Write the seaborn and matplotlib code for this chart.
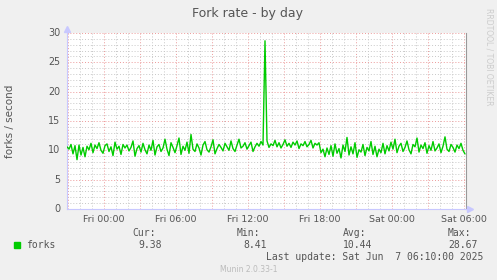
import matplotlib
matplotlib.use("Agg")
import matplotlib.pyplot as plt
import matplotlib.dates as mdates
import seaborn as sns
import pandas as pd
import numpy as np

# ---- data (10-minute samples) ----
start_time = "2025-06-05 20:55"
end_time = "2025-06-07 06:10"
forks_seg1 = [10.6, 10.2, 11.0, 9.4, 10.8, 8.41, 10.9, 9.2, 10.5, 8.9,
              10.7, 10.1, 11.2, 9.6, 10.9, 10.3, 11.3, 10.0, 9.5, 10.8,
              11.1, 9.8, 10.6, 9.1, 11.4, 10.2, 10.7, 9.3, 11.0, 10.4,
              10.9, 9.9, 10.5, 11.6, 9.0, 10.3, 10.8, 9.7, 11.2, 10.1,
              9.4, 10.9, 10.0, 11.7, 9.2, 10.6, 11.0, 9.8, 10.4, 11.9,
              10.2, 9.1, 11.3, 10.5, 9.6, 10.8, 12.1, 9.3, 10.7, 10.0,
              11.4, 9.5, 12.7, 10.2, 9.8, 11.1, 10.4, 9.2, 10.9, 11.5,
              10.1, 9.7, 10.6, 11.8, 9.4, 10.3, 11.0, 10.5, 9.9, 11.2,
              10.6, 10.0, 11.6, 10.3, 9.8, 10.9, 11.9, 10.4, 10.7, 11.3,
              10.2]
forks_seg2 = [10.8, 11.4, 9.8, 10.6, 11.2, 10.7, 11.5, 10.9, 28.67, 11.6,
              10.5, 11.1, 10.8, 11.7, 10.6, 11.3, 10.4, 11.0, 11.8, 10.7,
              11.2, 10.5, 11.4, 10.9, 11.6, 10.3, 11.1, 10.8, 11.5, 10.6,
              11.0, 11.7, 10.4, 11.2, 10.9, 11.3]
forks_seg3 = [9.6, 10.2, 8.9, 10.4, 9.3, 10.8, 9.0, 11.1, 9.5, 10.3,
              8.7, 10.9, 9.8, 12.2, 9.2, 10.6, 9.4, 11.3, 8.8, 10.1,
              9.7, 11.0, 9.1, 10.5, 9.9, 11.5, 9.3, 10.7, 8.9, 10.2,
              9.6, 11.2, 9.4]
forks_seg4 = [10.8, 9.9, 11.4, 10.2, 11.9, 9.6, 10.7, 11.2, 9.8, 10.5,
              11.6, 10.1, 9.4, 11.0, 10.6, 12.1, 9.7, 10.9, 10.3, 11.3,
              9.5, 10.8, 10.0, 11.5, 9.9, 10.4, 11.1, 9.6, 10.7, 12.3,
              10.2, 9.8, 11.0, 10.5, 9.7, 10.9, 10.3, 11.2, 10.0, 9.38]
forks = forks_seg1 + forks_seg2 + forks_seg3 + forks_seg4

xtick_times = ["2025-06-06 00:00", "2025-06-06 06:00", "2025-06-06 12:00",
               "2025-06-06 18:00", "2025-06-07 00:00", "2025-06-07 06:00"]
xtick_labels = ["Fri 00:00", "Fri 06:00", "Fri 12:00", "Fri 18:00",
                "Sat 00:00", "Sat 06:00"]
yticks = [0, 5, 10, 15, 20, 25, 30]

legend_stats = {"Cur:": "9.38", "Min:": "8.41", "Avg:": "10.44", "Max:": "28.67"}

df = pd.DataFrame({
    "time": pd.date_range(start_time, periods=len(forks), freq="10min"),
    "forks": forks,
})

# ---- style ----
sns.set_style("white")
plt.rcParams["font.family"] = ["DejaVu Sans"]
TXT = "#555555"

W, H = 497, 280
fig = plt.figure(figsize=(W / 100, H / 100), dpi=100, facecolor="#F0F0F0")
L, R, T, B = 67, 466, 33, 209
ax = fig.add_axes([L / W, 1 - B / H, (R - L) / W, (B - T) / H])
ax.set_facecolor("white")

sns.lineplot(data=df, x="time", y="forks", ax=ax, color="#00CC00",
             linewidth=1.0, zorder=3)
ax.set_xlabel("")
ax.set_ylabel("")

ax.set_xlim(pd.Timestamp(start_time), pd.Timestamp(end_time))
ax.set_ylim(0, 30)

# grids
ax.xaxis.set_major_locator(mdates.HourLocator(byhour=range(0, 24, 3)))
ax.xaxis.set_minor_locator(mdates.HourLocator())
ax.yaxis.set_major_locator(matplotlib.ticker.MultipleLocator(5))
ax.yaxis.set_minor_locator(matplotlib.ticker.MultipleLocator(1))
ax.grid(which="minor", color="#C8C8C8", linestyle=(0, (1, 2)), linewidth=0.7, zorder=1)
ax.grid(which="major", color="#EC9A9A", linestyle=(0, (1, 2)), linewidth=0.7, zorder=2)
ax.tick_params(which="both", length=0, labelbottom=False, labelleft=False)

# tick labels
for t, lab in zip(xtick_times, xtick_labels):
    ax.text(mdates.date2num(pd.Timestamp(t)), -0.035, lab,
            transform=ax.get_xaxis_transform(), ha="center", va="top",
            fontsize=6.8, color=TXT)
for v in yticks:
    ax.text(-0.016, v, str(v), transform=ax.get_yaxis_transform(),
            ha="right", va="center", fontsize=6.9, color=TXT)

# spines
ax.spines["top"].set_visible(False)
ax.spines["left"].set_color("#C8C8FF")
ax.spines["bottom"].set_color("#C8C8FF")
ax.spines["right"].set_color("#999999")
for s in ["left", "bottom", "right"]:
    ax.spines[s].set_linewidth(0.8)
# axis arrows
ax.plot([0], [1.02], marker="^", markersize=4, color="#C8C8FF",
        transform=ax.transAxes, clip_on=False, zorder=5)
ax.plot([1.01], [0], marker=">", markersize=4, color="#C8C8FF",
        transform=ax.transAxes, clip_on=False, zorder=5)

# title and labels
fig.text(247.5 / W, 1 - 14 / H, "Fork rate - by day", ha="center", va="center",
         fontsize=9, color=TXT)
fig.text(10 / W, 1 - 121 / H, "forks / second", ha="center", va="center",
         rotation=90, fontsize=7.5, color=TXT)
fig.text(489 / W, 1 - 57 / H, "RRDTOOL / TOBI OETIKER", ha="center", va="center",
         rotation=270, fontsize=5.5, color="#CCCCCC")

# legend block
mono = "DejaVu Sans Mono"
fig.patches.append(plt.Rectangle((14 / W, 1 - 248 / H), 6 / W, 6 / H,
                                 transform=fig.transFigure, color="#00CC00"))
fig.text(26.5 / W, 1 - 245.3 / H, "forks", ha="left", va="center",
         fontsize=7, color=TXT, family=mono)
header_x = [132, 237, 343, 448]
for hx, (hdr, val) in zip(header_x, legend_stats.items()):
    fig.text(hx / W, 1 - 233.5 / H, hdr, ha="left", va="center",
             fontsize=7, color=TXT, family=mono)
    fig.text((hx + 29.5) / W, 1 - 245.3 / H, val, ha="right", va="center",
             fontsize=7, color=TXT, family=mono)
fig.text(483 / W, 1 - 256.8 / H, "Last update: Sat Jun  7 06:10:00 2025",
         ha="right", va="center", fontsize=7, color=TXT, family=mono)
fig.text(248.5 / W, 1 - 269 / H, "Munin 2.0.33-1", ha="center", va="center",
         fontsize=5.5, color="#BBBBBB")

fig.savefig("out.png", dpi=100, facecolor=fig.get_facecolor())
